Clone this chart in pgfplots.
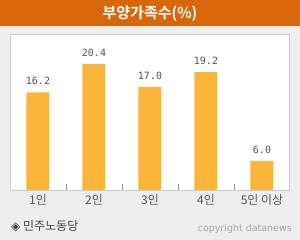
\documentclass[border=0pt]{standalone}
\usepackage{pgfplots}
\pgfplotsset{compat=1.18}
\usepackage{fontspec}
\newfontfamily\kr{Noto Sans CJK KR}
\newfontfamily\krb{Noto Sans CJK KR Bold}
\newfontfamily\mono{DejaVu Sans Mono}
\newfontfamily\dv{DejaVu Sans}
\definecolor{bgc}{HTML}{EEEEEE}
\definecolor{titlec}{HTML}{D8660A}
\definecolor{barc}{HTML}{FBB538}
\definecolor{boxc}{HTML}{CCCCCC}
\definecolor{txt}{HTML}{555555}
\begin{document}
\begin{tikzpicture}[x=1bp,y=1bp]
\fill[bgc] (0,0) rectangle (300,240);
\fill[titlec] (0,214) rectangle (300,240);
\node[text=white,font=\krb\fontsize{15bp}{15bp}\selectfont] at (150,226.5) {부양가족수(\%)};
\fill[white] (10,50) rectangle (290,205);
\begin{axis}[
  at={(10bp,50bp)}, anchor=south west,
  scale only axis, width=280bp, height=155bp,
  xmin=0.5, xmax=5.5, ymin=1.69, ymax=24.7,
  axis line style={boxc, line width=1bp},
  ytick=\empty,
  xtick={1,2,3,4,5},
  xticklabels={1인,2인,3인,4인,5인 이상},
  xticklabel style={font=\kr\fontsize{12bp}{12bp}\selectfont, text=txt, yshift=-1bp},
  major tick length=0pt,
  extra x ticks={1.5,2.5,3.5,4.5},
  extra x tick labels={},
  extra x tick style={major tick length=6bp, tick style={draw=gray!80, line width=0.8bp}, xtick pos=bottom, tick align=inside},
  xtick pos=bottom,
  bar width=23bp,
  nodes near coords,
  nodes near coords style={font=\mono\fontsize{10bp}{10bp}\selectfont, text=txt, anchor=south, inner sep=0pt, yshift=7bp, /pgf/number format/.cd, fixed, fixed zerofill, precision=1},
  /pgf/number format/assume math mode=true,
]
\addplot[ybar, fill=barc, draw=none] coordinates {(1,16.2) (2,20.4) (3,17.0) (4,19.2) (5,6.0)};
\end{axis}
\node[anchor=west, text=black!75, font=\kr\fontsize{12bp}{12bp}\selectfont, inner sep=0pt] at (11,14) {{\dv ◈} 민주노동당};
\node[anchor=east, text=black!35, font=\dv\fontsize{9.5bp}{9.5bp}\selectfont, inner sep=0pt] at (292,11) {copyright datanews};
\end{tikzpicture}
\end{document}
